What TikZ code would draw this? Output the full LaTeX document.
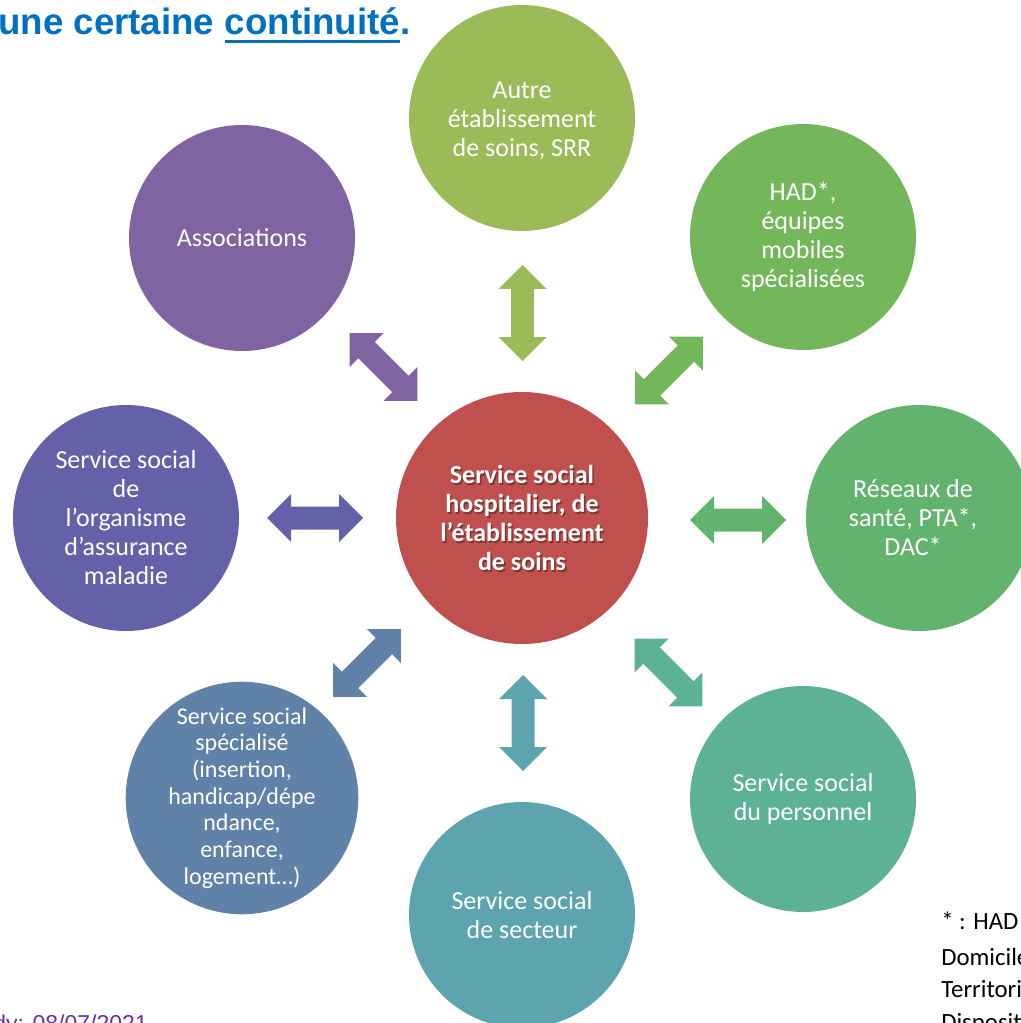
\documentclass[tikz,border=0pt]{standalone}
\usepackage{fontspec}
\setmainfont{Carlito}
\newfontfamily\arialf{Liberation Sans}
\definecolor{hubred}{HTML}{C0504D}
\definecolor{cTop}{HTML}{9BBB59}
\definecolor{cHAD}{HTML}{74B75B}
\definecolor{cRes}{HTML}{62B36D}
\definecolor{cPer}{HTML}{5CB196}
\definecolor{cSec}{HTML}{5DA4AE}
\definecolor{cSpe}{HTML}{6182A8}
\definecolor{cOrg}{HTML}{6561A8}
\definecolor{cAss}{HTML}{8064A2}
\definecolor{titleblue}{HTML}{0070C0}
\definecolor{datepurple}{HTML}{7030A0}
\newcommand\dblarrow[4]{%
  \fill[#4, shift={(#1,#2)}, rotate=#3] (-48,0) -- (-24,24) -- (-24,11.5) -- (24,11.5) -- (24,24) -- (48,0) -- (24,-24) -- (24,-11.5) -- (-24,-11.5) -- (-24,-24) -- cycle;}
\tikzset{
  bub/.style={circle, inner sep=0pt, minimum size=169.5pt, text=white, align=center,
    font=\fontsize{19.5}{21.75}\selectfont},
  hub/.style={circle, inner sep=0pt, minimum size=189pt, fill=hubred},
  hubtxt/.style={align=center, text=white, font=\bfseries\fontsize{19.5}{21.75}\selectfont},
  note/.style={anchor=base west, inner sep=0pt, font=\fontsize{18.6}{25.5}\selectfont},
  ttl/.style={anchor=base west, inner sep=0pt, text=titleblue, font=\arialf\bfseries\fontsize{27.5}{30}\selectfont}
}
\begin{document}
\begin{tikzpicture}[x=0.75pt, y=-0.75pt]
\useasboundingbox (0,0) rectangle (1020,1023);
% hub
\node[hub] (hub) at (522,518) {};
\node[hubtxt, text=black, opacity=0.35] at (523.5,519.5) {Service social\\hospitalier, de\\l’établissement\\de soins};
\node[hubtxt] (hubt) at (522,518) {Service social\\hospitalier, de\\l’établissement\\de soins};
% outer circles
\node[bub, fill=cTop] (top) at (522,118) {};
\node[text=white, align=center, font=\fontsize{19.5}{21.75}\selectfont] (topt) at (522,121) {Autre\\établissement\\de soins, SRR};
\node[bub, fill=cHAD] (had) at (803,237) {HAD*,\\équipes\\mobiles\\spécialisées};
\node[bub, fill=cRes] (res) at (919,518) {};
\node[text=white, align=center, font=\fontsize{19.5}{21.75}\selectfont] (rest) at (913,518) {Réseaux de\\santé, PTA*,\\DAC*};
\node[bub, fill=cPer] (per) at (803,799) {Service social\\du personnel};
\node[bub, fill=cSec] (sec) at (522,915) {Service social\\de secteur};
\node[bub, fill=cSpe, font=\fontsize{18}{20}\selectfont] (spe) at (242,798) {Service social\\spécialisé\\(insertion,\\handicap/dépe\\ndance,\\enfance,\\logement…)};
\node[bub, fill=cOrg] (org) at (126,518) {Service social\\de\\l’organisme\\d’assurance\\maladie};
\node[bub, fill=cAss] (ass) at (242,238) {Associations};
% arrows
\dblarrow{522.5}{313}{90}{cTop}
\dblarrow{669}{370.5}{45}{cHAD}
\dblarrow{738}{520}{0}{cRes}
\dblarrow{668.5}{672.5}{-45}{cPer}
\dblarrow{523}{723}{90}{cSec}
\dblarrow{367}{663}{45}{cSpe}
\dblarrow{315}{518}{0}{cOrg}
\dblarrow{383.5}{367}{-45}{cAss}
% title
\node[ttl] (t1) at (-2,35) {une certaine};
\node[ttl] (t2) at ([xshift=7.6pt]t1.base east) {continuité};
\node[ttl] (t3) at (t2.base east) {.};
\draw[titleblue, line width=2.25pt] ([yshift=-5.25pt]t2.base west) -- ([yshift=-5.25pt]t2.base east);
% date
\node[anchor=base east, inner sep=0pt, text=datepurple, font=\arialf\fontsize{17.25}{20}\selectfont] (date) at (148,1031) {dy: 08/07/2021};
% footnote
\node[note] (n1) at (941,929) {* : HAD : Hospitalisation à};
\node[note] (n2) at (941,965) {Domicile, PTA : Plateforme};
\node[note] (n3) at (941,997) {Territoriale d’Appui, DAC :};
\node[note] (n4) at (941,1030) {Dispositif d’Appui à la Coordination};
\end{tikzpicture}
\end{document}
